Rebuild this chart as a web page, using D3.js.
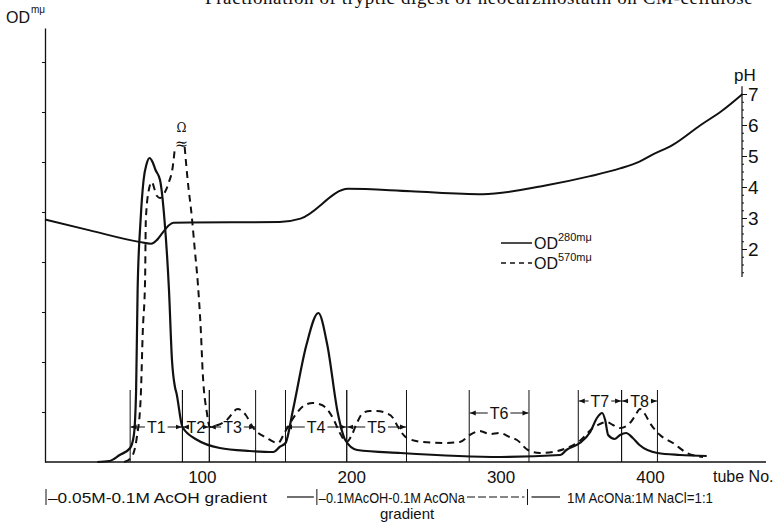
<!DOCTYPE html>
<html>
<head>
<meta charset="utf-8">
<script src="https://cdn.jsdelivr.net/npm/d3@7"></script>
<style>
body { margin: 0; background: #fff; }
svg text { font-family: "Liberation Sans", "DejaVu Sans", sans-serif; fill: #111; }
.axis text { font-size: 17px; fill: #111; }
.axis line, .axis path { stroke: #111; }
</style>
</head>
<body>
<svg id="chart" width="773" height="522"></svg>
<script>
// OD at 280 mμ (solid)
const tube280 = [30, 38, 45, 52, 54.5, 56, 57, 59, 61, 63, 65, 67, 69, 72, 75, 78, 80, 82, 83, 87, 97, 112, 132, 148, 152, 156, 161, 170, 178, 184, 191, 196, 204, 233, 300, 340, 344, 353, 360, 364.5, 368, 370, 372, 376.5, 380, 384, 388.5, 393, 405, 420, 438];
const od280 = [0, 0.005, 0.035, 0.07, 0.135, 0.36, 0.86, 1.21, 1.41, 1.49, 1.52, 1.5, 1.46, 1.41, 1.21, 0.86, 0.51, 0.375, 0.345, 0.175, 0.11, 0.07, 0.055, 0.05, 0.075, 0.095, 0.26, 0.585, 0.745, 0.585, 0.245, 0.11, 0.06, 0.045, 0.025, 0.035, 0.06, 0.095, 0.15, 0.22, 0.245, 0.21, 0.135, 0.115, 0.135, 0.145, 0.12, 0.085, 0.045, 0.035, 0.03];

// OD at 570 mμ (dashed), null = off scale (broken peak)
const tube570 = [48, 53, 56.5, 59, 60.5, 62, 62.5, 64.5, 66.5, 68.5, 70, 72, 75, 78, 80.5, 82, 85, 88.5, 90.5, 93.3, 95.3, 97.3, 99.3, 100.6, 103.4, 105.3, 110.7, 116.7, 124, 129.4, 134, 143.5, 151, 155.6, 163.6, 169, 174.3, 180.3, 184.3, 188.4, 192.4, 197, 200.4, 203.8, 207.8, 212.5, 217.2, 223.2, 228, 230.6, 237.3, 248, 262.8, 272.7, 279.4, 286, 292.8, 299.5, 306, 311, 318.3, 326.3, 335, 344.4, 353, 361.8, 366.5, 371.2, 375.2, 380, 386.6, 390, 393.3, 396.6, 400, 406.7, 415.4, 424.8, 435.5];
const od570 = [0, 0.025, 0.125, 0.31, 0.66, 0.91, 1.21, 1.36, 1.40, 1.36, 1.33, 1.32, 1.345, 1.40, 1.475, 1.575, null, 1.575, 1.41, 1.225, 1.06, 0.895, 0.66, 0.445, 0.245, 0.175, 0.185, 0.21, 0.265, 0.235, 0.175, 0.12, 0.095, 0.15, 0.245, 0.285, 0.295, 0.285, 0.26, 0.21, 0.145, 0.10, 0.135, 0.195, 0.245, 0.255, 0.255, 0.245, 0.22, 0.185, 0.12, 0.10, 0.095, 0.10, 0.135, 0.155, 0.14, 0.145, 0.125, 0.11, 0.06, 0.045, 0.05, 0.07, 0.105, 0.17, 0.19, 0.20, 0.185, 0.17, 0.195, 0.23, 0.265, 0.24, 0.195, 0.135, 0.095, 0.045, 0.025];

// pH of effluent
const tubePH = [-5, 25, 58, 66, 81, 120, 152, 166, 198, 240, 288, 330, 360, 380, 393, 402, 415, 434, 448, 462];
const phVals = [2.95, 2.6, 2.23, 2.17, 2.85, 2.86, 2.87, 2.98, 3.94, 3.86, 3.77, 4.05, 4.35, 4.6, 4.82, 5.05, 5.35, 6.0, 6.45, 7.0];

// pooled fractions
const fracNames = ['T1', 'T2', 'T3', 'T4', 'T5', 'T6', 'T7', 'T8'];
const fracStart = [52, 87, 105, 156, 197, 279, 352, 381];
const fracEnd = [87, 105, 136, 197, 237, 319, 381, 405];

const xTicks = [100, 200, 300, 400];
const phTicks = [2, 3, 4, 5, 6, 7];
// tube numbers where the eluent changes
const eluentChange = [177, 318];

const svg = d3.select('#chart');

const x = d3.scaleLinear().domain([-5, 475]).range([45, 762]);
const yOD = d3.scaleLinear().domain([0, 2.17]).range([462, 28]);
const yPH = d3.scaleLinear().domain([2, 7]).range([249, 94]);

// arrow head
svg.append('defs').append('marker')
    .attr('id', 'arr')
    .attr('markerUnits', 'userSpaceOnUse')
    .attr('markerWidth', 6).attr('markerHeight', 6)
    .attr('refX', 6).attr('refY', 3)
    .attr('orient', 'auto')
    .append('path').attr('d', 'M0,0.6 L6,3 L0,5.4 Z').attr('fill', '#111');

// title (cut off at the top of the page)
svg.append('text')
    .attr('x', 205).attr('y', 4)
    .style('font-family', '"Liberation Serif", "DejaVu Serif", serif')
    .style('font-size', '19px')
    .style('letter-spacing', '0.6px')
    .attr('fill', '#333')
    .text('Fractionation of tryptic digest of neocarzinostatin on CM-cellulose');

// OD axis (no labels)
svg.append('g')
    .attr('class', 'axis')
    .attr('transform', 'translate(45,0)')
    .call(d3.axisLeft(yOD).tickValues(d3.range(0.25, 2.1, 0.25)).tickSize(3).tickSizeOuter(0).tickFormat(''))
    .call(g => g.selectAll('.tick line').attr('stroke', '#555'))
    .call(g => g.select('.domain').attr('stroke-width', 1.3));

svg.append('text').attr('x', 6).attr('y', 23).style('font-size', '16px').text('OD');
svg.append('text').attr('x', 31).attr('y', 13).style('font-size', '10px').text('mμ');

// tube axis
svg.append('g')
    .attr('class', 'axis')
    .attr('transform', 'translate(0,462)')
    .call(d3.axisBottom(x).tickValues(xTicks).tickSize(0).tickPadding(9).tickSizeOuter(0))
    .call(g => g.select('.domain').attr('stroke-width', 1.5).attr('d', 'M45,0H766'));

svg.append('text').attr('x', 713).attr('y', 482).style('font-size', '16px').text('tube No.');

// pH axis
const phX = 742;
svg.append('line')
    .attr('x1', phX).attr('x2', phX)
    .attr('y1', yPH(1.1)).attr('y2', yPH(7.25))
    .attr('stroke', '#111').attr('stroke-width', 1.2);
svg.append('g')
    .attr('class', 'axis')
    .attr('transform', `translate(${phX},0)`)
    .call(d3.axisRight(yPH).tickValues(d3.range(1.25, 7.2, 0.25)).tickSize(2).tickFormat(''))
    .call(g => g.select('.domain').remove())
    .call(g => g.selectAll('.tick line').attr('stroke', '#666'));
svg.append('g')
    .attr('class', 'axis')
    .attr('transform', `translate(${phX},0)`)
    .call(d3.axisRight(yPH).tickValues(phTicks).tickSize(5).tickPadding(1).tickFormat(d3.format('d')))
    .call(g => g.select('.domain').remove())
    .call(g => g.selectAll('.tick text').style('font-size', '19px'));
svg.append('text').attr('x', 734).attr('y', 81).style('font-size', '17px').text('pH');

// fraction boundaries and labels
const fracTop = yOD(0.36);
const fracLabelY = i => i < 5 ? 427 : (i === 5 ? 413 : 401);

fracNames.forEach(function (name, i) {
    const xa = x(fracStart[i]), xb = x(fracEnd[i]);
    [xa, xb].forEach(function (xx) {
        svg.append('line')
            .attr('x1', xx).attr('x2', xx)
            .attr('y1', fracTop).attr('y2', yOD(0))
            .attr('stroke', '#111').attr('stroke-width', 1);
    });
    const cx = (xa + xb) / 2, ly = fracLabelY(i);
    const t = svg.append('text')
        .attr('x', cx).attr('y', ly + 6)
        .attr('text-anchor', 'middle')
        .style('font-size', '16px')
        .text(name);
    const w = t.node().getComputedTextLength();
    svg.append('line')
        .attr('x1', cx - w / 2 - 2).attr('x2', xa + 0.5)
        .attr('y1', ly).attr('y2', ly)
        .attr('stroke', '#111').attr('stroke-width', 1)
        .attr('marker-end', 'url(#arr)');
    svg.append('line')
        .attr('x1', cx + w / 2 + 2).attr('x2', xb - 0.5)
        .attr('y1', ly).attr('y2', ly)
        .attr('stroke', '#111').attr('stroke-width', 1)
        .attr('marker-end', 'url(#arr)');
});

// curves
const lineOD = d3.line()
    .defined(d => d[1] !== null)
    .x(d => x(d[0]))
    .y(d => yOD(d[1]))
    .curve(d3.curveMonotoneX);

svg.append('path')
    .datum(d3.zip(tube280, od280))
    .attr('d', lineOD)
    .attr('fill', 'none').attr('stroke', '#111').attr('stroke-width', 2.2);

svg.append('path')
    .datum(d3.zip(tube570, od570))
    .attr('d', lineOD)
    .attr('fill', 'none').attr('stroke', '#111').attr('stroke-width', 2)
    .attr('stroke-dasharray', '7,5');

const linePH = d3.line()
    .x(d => x(d[0]))
    .y(d => yPH(d[1]))
    .curve(d3.curveMonotoneX);

svg.append('path')
    .datum(d3.zip(tubePH, phVals))
    .attr('d', linePH)
    .attr('fill', 'none').attr('stroke', '#111').attr('stroke-width', 2);

// break mark on the off-scale 570 peak
const brk = x(tube570[od570.indexOf(null)]) + 2;
svg.append('text').attr('x', brk).attr('y', yOD(1.575) + 2)
    .attr('text-anchor', 'middle')
    .style('font-family', '"DejaVu Serif", serif')
    .style('font-size', '16px').text('≈');
svg.append('text').attr('x', brk).attr('y', yOD(1.575) - 15)
    .attr('text-anchor', 'middle')
    .style('font-family', '"DejaVu Serif", serif')
    .style('font-size', '12px').text('Ω');

// legend
const leg = svg.append('g').attr('transform', 'translate(501,243)');
leg.append('line').attr('x1', 0).attr('x2', 31).attr('y1', 0).attr('y2', 0)
    .attr('stroke', '#111').attr('stroke-width', 1.5);
leg.append('line').attr('x1', 0).attr('x2', 31).attr('y1', 20).attr('y2', 20)
    .attr('stroke', '#111').attr('stroke-width', 1.5).attr('stroke-dasharray', '5,4');
[['280mμ', 0], ['570mμ', 20]].forEach(function (d) {
    const t = leg.append('text').attr('x', 33).attr('y', d[1] + 6).style('font-size', '16px');
    t.append('tspan').text('OD');
    t.append('tspan').attr('dy', -8).style('font-size', '11px').text(d[0]);
});

// eluent annotation under the axis
const bot = 503;
const bar = xx => svg.append('line').attr('x1', xx).attr('x2', xx).attr('y1', 489).attr('y2', 505)
    .attr('stroke', '#111').attr('stroke-width', 1);
bar(x(-5) + 1);
bar(x(eluentChange[0]));
bar(x(eluentChange[1]));

svg.append('text').attr('x', 48).attr('y', bot)
    .attr('textLength', 219).attr('lengthAdjust', 'spacingAndGlyphs')
    .style('font-size', '15px').text('–0.05M-0.1M AcOH gradient');
svg.append('line').attr('x1', 287).attr('x2', x(eluentChange[0]) - 3).attr('y1', 497).attr('y2', 497)
    .attr('stroke', '#111').attr('stroke-width', 1.2);
svg.append('text').attr('x', x(eluentChange[0]) + 2).attr('y', bot)
    .attr('textLength', 146).attr('lengthAdjust', 'spacingAndGlyphs')
    .style('font-size', '15px').text('–0.1MAcOH-0.1M AcONa');
svg.append('line').attr('x1', 467).attr('x2', x(eluentChange[1]) - 3).attr('y1', 497).attr('y2', 497)
    .attr('stroke', '#111').attr('stroke-width', 1.2).attr('stroke-dasharray', '8,3');
svg.append('line').attr('x1', x(eluentChange[1]) + 4).attr('x2', 560).attr('y1', 497).attr('y2', 497)
    .attr('stroke', '#111').attr('stroke-width', 1.2);
svg.append('text').attr('x', 567).attr('y', bot)
    .attr('textLength', 146).attr('lengthAdjust', 'spacingAndGlyphs')
    .style('font-size', '15px').text('1M AcONa:1M NaCl=1:1');
svg.append('text').attr('x', 380).attr('y', 519)
    .style('font-size', '15px').text('gradient');
</script>
</body>
</html>
